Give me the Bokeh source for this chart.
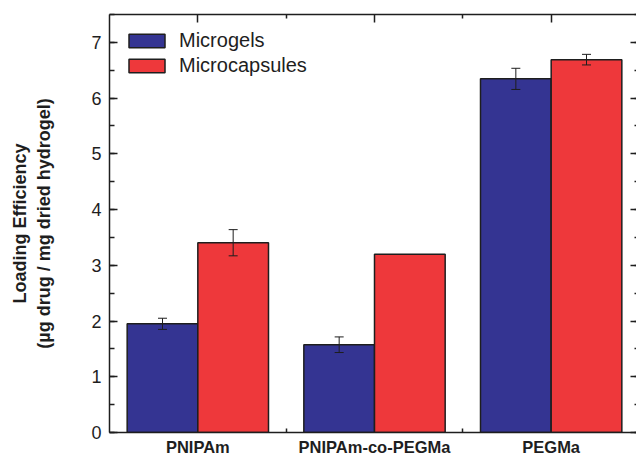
import numpy as np
from bokeh.plotting import figure
from bokeh.models import (Range1d, LinearAxis, FixedTicker, SingleIntervalTicker,
                          ColumnDataSource, Whisker, TeeHead, Legend, LegendItem)
from bokeh.embed import file_html
from bokeh.resources import INLINE

# ---- data ----
categories = ["PNIPAm", "PNIPAm-co-PEGMa", "PEGMa"]
series_names = ["Microgels", "Microcapsules"]
microgels = [1.95, 1.575, 6.345]
microgels_err = [0.10, 0.14, 0.19]
microcapsules = [3.405, 3.20, 6.69]
microcapsules_err = [0.235, 0.0, 0.095]
y_label = "Loading Efficiency\n(µg drug / mg dried hydrogel)"

BLUE = "#343492"
RED = "#EE383B"
DARK = "#1e1e1e"
FONT = "Liberation Sans"

centers = np.arange(len(categories)) + 0.5
bar_w = 0.4

p = figure(width=636, height=458,
           x_range=Range1d(0, 2.983), y_range=Range1d(0, 7.5),
           output_backend="svg", toolbar_location=None,
           x_axis_location=None, y_axis_location=None,
           min_border_left=109, min_border_right=0,
           min_border_top=14, min_border_bottom=25)
p.outline_line_color = None
p.xgrid.visible = False
p.ygrid.visible = False
p.background_fill_color = "white"
p.border_fill_color = "white"

src_mg = ColumnDataSource(dict(x=centers - bar_w / 2, top=microgels))
src_mc = ColumnDataSource(dict(x=centers + bar_w / 2, top=microcapsules))
r1 = p.vbar(x="x", top="top", width=bar_w, bottom=0, source=src_mg,
            fill_color=BLUE, line_color=DARK, line_width=1.5)
r2 = p.vbar(x="x", top="top", width=bar_w, bottom=0, source=src_mc,
            fill_color=RED, line_color=DARK, line_width=1.5)

# error bars
ex, eu, el = [], [], []
for xs, vals, errs in ((centers - bar_w / 2, microgels, microgels_err),
                       (centers + bar_w / 2, microcapsules, microcapsules_err)):
    for x, v, e in zip(xs, vals, errs):
        if e > 0:
            ex.append(x); eu.append(v + e); el.append(v - e)
esrc = ColumnDataSource(dict(x=ex, upper=eu, lower=el))
wh = Whisker(base="x", upper="upper", lower="lower", source=esrc,
             line_color=DARK, line_width=1,
             upper_head=TeeHead(size=9, line_color=DARK, line_width=1),
             lower_head=TeeHead(size=9, line_color=DARK, line_width=1))
wh.level = "overlay"
p.add_layout(wh)

# axes
def style_common(ax):
    ax.axis_line_color = DARK
    ax.axis_line_width = 1.5
    ax.major_tick_line_color = DARK
    ax.minor_tick_line_color = DARK
    ax.major_tick_line_width = 1.5
    ax.minor_tick_line_width = 1.5
    ax.major_tick_out = 0
    ax.minor_tick_out = 0

def no_labels(ax):
    ax.major_label_text_color = None
    ax.major_label_text_font_size = "1px"
    ax.major_label_standoff = 0

left = LinearAxis(ticker=SingleIntervalTicker(interval=1, num_minor_ticks=2))
style_common(left)
left.major_tick_in = 8
left.minor_tick_in = 5
left.major_label_standoff = 8
left.major_label_text_font = FONT
left.major_label_text_font_size = "18px"
left.major_label_text_color = DARK
left.axis_label = y_label
left.axis_label_text_font = FONT
left.axis_label_text_font_size = "18px"
left.axis_label_text_font_style = "bold"
left.axis_label_text_color = DARK
left.axis_label_standoff = 34
left.axis_label_text_line_height = 1.22
p.add_layout(left, "left")

right = LinearAxis(ticker=SingleIntervalTicker(interval=1, num_minor_ticks=2))
style_common(right)
right.axis_line_color = None
right.major_tick_in = 6
right.minor_tick_in = 2
no_labels(right)
p.add_layout(right, "right")

xticker = FixedTicker(ticks=list(centers), minor_ticks=[1.0, 2.0])
bottom = LinearAxis(ticker=xticker,
                    major_label_overrides={float(c): n for c, n in zip(centers, categories)})
style_common(bottom)
bottom.major_tick_in = 0
bottom.minor_tick_in = 4
bottom.major_label_standoff = 5
bottom.major_label_text_font = FONT
bottom.major_label_text_font_size = "16.5px"
bottom.major_label_text_font_style = "bold"
bottom.major_label_text_color = DARK
p.add_layout(bottom, "below")

top = LinearAxis(ticker=FixedTicker(ticks=list(centers), minor_ticks=[1.0, 2.0]))
style_common(top)
top.major_tick_in = 8
top.minor_tick_in = 4
no_labels(top)
p.add_layout(top, "above")

legend = Legend(items=[LegendItem(label=series_names[0], renderers=[r1]),
                       LegendItem(label=series_names[1], renderers=[r2])],
                location="top_left", glyph_width=45, glyph_height=17,
                label_text_font=FONT, label_text_font_size="20px",
                label_text_color=DARK, label_standoff=10, spacing=2,
                margin=15, padding=10, border_line_color=None,
                background_fill_alpha=0)
p.add_layout(legend)

open("out.html", "w").write(file_html(p, INLINE))
